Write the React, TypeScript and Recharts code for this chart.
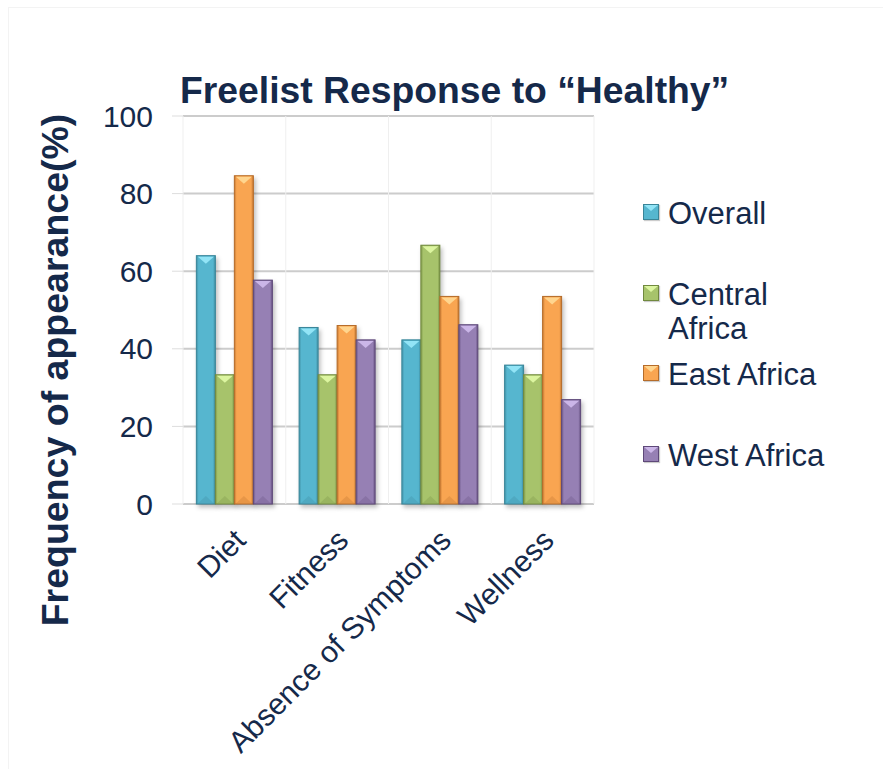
import { BarChart, Bar, XAxis, YAxis, CartesianGrid, Legend } from 'recharts';

const categories = ['Diet', 'Fitness', 'Absence of Symptoms', 'Wellness'];
const overall = [64, 45.5, 42.3, 35.8];
const centralAfrica = [33.3, 33.3, 66.7, 33.3];
const eastAfrica = [84.6, 46, 53.5, 53.5];
const westAfrica = [57.7, 42.3, 46.2, 26.9];
const yTicks = [0, 20, 40, 60, 80, 100];

const series = [
  { key: 'overall', name: 'Overall', fill: '#56b6cf', light: '#92e4f6', edge: '#3a8598' },
  { key: 'central', name: 'Central Africa', fill: '#a7c36b', light: '#dcf5a0', edge: '#71893f' },
  { key: 'east', name: 'East Africa', fill: '#f9a551', light: '#ffd58e', edge: '#b56c2a' },
  { key: 'west', name: 'West Africa', fill: '#9680b4', light: '#cbb6e8', edge: '#5e4979' },
];

const data = categories.map((name, i) => ({
  name,
  overall: overall[i],
  central: centralAfrica[i],
  east: eastAfrica[i],
  west: westAfrica[i],
}));

const TEXT = '#15294a';
const FONT = '"Liberation Sans", Arial, sans-serif';

function BevelBar(props: any) {
  const { x, y, width, height, fill, light, edge, id } = props;
  if (!height || height <= 0) return null;
  const gid = `g-${id}`;
  const tri = Math.min(8, height / 2);
  return (
    <g style={{ filter: 'drop-shadow(2px 3px 2px rgba(0,0,0,0.25))' }}>
      <defs>
        <linearGradient id={gid} x1="0" y1="0" x2="1" y2="0">
          <stop offset="0" stopColor={edge} stopOpacity={0.55} />
          <stop offset="0.12" stopColor={fill} stopOpacity={1} />
          <stop offset="0.88" stopColor={fill} stopOpacity={1} />
          <stop offset="1" stopColor={edge} stopOpacity={0.7} />
        </linearGradient>
      </defs>
      <rect x={x} y={y} width={width} height={height} fill={fill} />
      <rect x={x} y={y} width={width} height={height} fill={`url(#${gid})`} stroke={edge} strokeWidth={1} />
      <polygon
        points={`${x + 1.5},${y + 1} ${x + width - 1.5},${y + 1} ${x + width / 2},${y + tri}`}
        fill={light}
      />
      <polygon
        points={`${x + 1.5},${y + height - 0.5} ${x + width - 1.5},${y + height - 0.5} ${x + width / 2},${y + height - tri}`}
        fill={edge}
        opacity={0.25}
      />
    </g>
  );
}

function XTick(props: any) {
  const { x, y, payload } = props;
  return (
    <g transform={`translate(${x - 2},${y + 3})`}>
      <text
        x={0}
        y={0}
        dy="0.71em"
        textAnchor="end"
        transform="rotate(-45)"
        fill={TEXT}
        fontSize={30}
        fontFamily={FONT}
      >
        {payload.value}
      </text>
    </g>
  );
}

function LegendBox() {
  return (
    <div style={{ fontFamily: FONT, fontSize: 31, color: TEXT, textAlign: 'left' }}>
      {series.map((s) => (
        <div key={s.key} style={{ height: 80.7, position: 'relative' }}>
          <div
            style={{
              position: 'absolute',
              left: 0,
              top: 30,
              width: 14,
              height: 14,
              background: s.fill,
              border: `1px solid ${s.edge}`,
              boxShadow: '1px 1px 1px rgba(0,0,0,0.2)',
            }}
          >
            <div
              style={{
                width: 0,
                height: 0,
                borderLeft: '7px solid transparent',
                borderRight: '7px solid transparent',
                borderTop: `6px solid ${s.light}`,
              }}
            />
          </div>
          <div style={{ position: 'absolute', left: 25, top: 23, width: 170, lineHeight: '34px' }}>{s.name}</div>
        </div>
      ))}
    </div>
  );
}

export default function App() {
  return (
    <div style={{ position: 'absolute', left: 0, top: 0, width: 883, height: 769, background: '#fff' }}>
      <div
        style={{
          position: 'absolute',
          left: 8,
          top: 7,
          width: 875,
          height: 762,
          borderTop: '1px solid #f3f3f3',
          borderLeft: '1px solid #f3f3f3',
        }}
      />
      <div
        style={{
          position: 'absolute',
          left: 180,
          top: 70,
          fontFamily: FONT,
          fontWeight: 'bold',
          fontSize: 37.3,
          color: TEXT,
          whiteSpace: 'nowrap',
          lineHeight: '40px',
        }}
      >
        Freelist Response to “Healthy”
      </div>
      <div
        style={{
          position: 'absolute',
          left: 55,
          top: 370,
          transform: 'translate(-50%, -50%) rotate(-90deg)',
          fontFamily: FONT,
          fontWeight: 'bold',
          fontSize: 37.5,
          color: TEXT,
          whiteSpace: 'nowrap',
        }}
      >
        Frequency of appearance(%)
      </div>
      <BarChart
        width={883}
        height={769}
        data={data}
        margin={{ top: 116, right: 289, bottom: 0, left: 93 }}
        barCategoryGap="13%"
        barGap={0}
        style={{ position: 'absolute', left: 0, top: 0 }}
      >
        <CartesianGrid
          stroke="#cccccc"
          strokeWidth={2}
          vertical={false}
        />
        <CartesianGrid
          stroke="#efefef"
          strokeWidth={1}
          horizontal={false}
          verticalCoordinatesGenerator={({ offset }: any) =>
            categories.map((_, i) => offset.left + (i * offset.width) / categories.length).concat(offset.left + offset.width)
          }
        />
        <XAxis
          dataKey="name"
          axisLine={false}
          tickLine={false}
          interval={0}
          height={265}
          tick={<XTick />}
          tickMargin={14}
        />
        <YAxis
          domain={[0, 100]}
          ticks={yTicks}
          width={90}
          axisLine={false}
          tickLine={{ stroke: '#dddddd' }}
          tickSize={11}
          tickMargin={19}
          tick={{ fill: TEXT, fontSize: 30, fontFamily: FONT }}
        />
        <Legend
          layout="vertical"
          align="center"
          verticalAlign="middle"
          content={<LegendBox />}
          wrapperStyle={{ left: 643, top: 174, width: 210 }}
        />
        {series.map((s) => (
          <Bar
            key={s.key}
            dataKey={s.key}
            name={s.name}
            fill={s.fill}
            isAnimationActive={false}
            shape={(p: any) => <BevelBar {...p} fill={s.fill} light={s.light} edge={s.edge} id={`${s.key}-${p.index}`} />}
          />
        ))}
      </BarChart>
    </div>
  );
}
